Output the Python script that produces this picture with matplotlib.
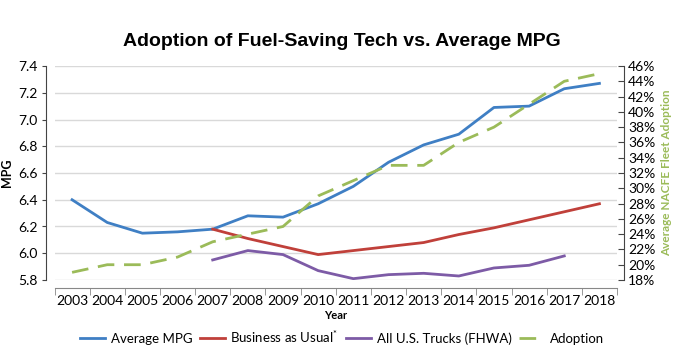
import matplotlib
matplotlib.use("Agg")
import matplotlib.pyplot as plt

plt.rcParams['font.family'] = ['Lato', 'DejaVu Sans']
plt.rcParams['mathtext.fontset'] = 'custom'
plt.rcParams['mathtext.rm'] = 'Lato'

years = [str(y) for y in range(2003, 2019)]
avg_mpg = [6.40, 6.23, 6.15, 6.16, 6.18, 6.28, 6.27, 6.37, 6.50, 6.68, 6.81, 6.89, 7.09, 7.10, 7.23, 7.27]
bau_years = years[4:]
bau = [6.18, 6.11, 6.05, 5.99, 6.02, 6.05, 6.08, 6.14, 6.19, 6.25, 6.31, 6.37]
fhwa_years = years[4:15]
fhwa = [5.95, 6.02, 5.99, 5.87, 5.81, 5.84, 5.85, 5.83, 5.89, 5.91, 5.98]
adoption = [19, 20, 20, 21, 23, 24, 25, 29, 31, 33, 33, 36, 38, 41, 44, 45]

c_blue = '#3f7fc4'
c_red = '#c0403a'
c_purple = '#7d5ba6'
c_green = '#9bbb59'

fig = plt.figure(figsize=(6.84, 3.6), dpi=100)
ax = fig.add_axes([54.5/684, 1-280/360, (617-54.5)/684, (280-66)/360])
x = list(range(len(years)))
xi = {y: i for i, y in enumerate(years)}

ax.set_xlim(-0.5, len(years)-0.5)
ax.set_ylim(5.8, 7.4)
ax.set_yticks([5.8 + 0.2*i for i in range(9)])
ax.set_yticklabels([f"{5.8 + 0.2*i:.1f}" for i in range(9)], fontsize=8, color='#333333')
ax.grid(axis='y', color='#d9d9d9', lw=1)
ax.set_axisbelow(True)
ax.set_xticks(x)
ax.set_xticklabels(years, fontsize=8, color='#222222')
ax.set_xticks([i-0.5 for i in range(len(years)+1)], minor=True)
ax.tick_params(axis='x', which='major', length=0, pad=5)
ax.tick_params(axis='x', which='minor', length=5, color='#888888')
ax.tick_params(axis='y', length=3, color='#444444', pad=3)
for s in ['top', 'right']:
    ax.spines[s].set_visible(False)
ax.spines['left'].set_position(('outward', 6))
ax.spines['left'].set_color('#444444')
ax.spines['bottom'].set_position(('outward', 6))
ax.spines['bottom'].set_color('#888888')
ax.set_ylabel('MPG', fontsize=9, fontweight='bold', labelpad=4)
ax.set_xlabel('Year', fontsize=8, fontweight='bold', labelpad=2)

l1, = ax.plot(x, avg_mpg, color=c_blue, lw=2, label='Average MPG')
l2, = ax.plot([xi[y] for y in bau_years], bau, color=c_red, lw=2, label='Business as Usual$^{*}$')
l3, = ax.plot([xi[y] for y in fhwa_years], fhwa, color=c_purple, lw=2, label='All U.S. Trucks (FHWA)')

ax2 = ax.twinx()
ax2.set_ylim(18, 46)
ax2.set_yticks(list(range(18, 47, 2)))
ax2.set_yticklabels([f"{v}%" for v in range(18, 47, 2)], fontsize=8, color=c_green)
l4, = ax2.plot(x, adoption, color=c_green, lw=2, dashes=(6, 3.5), label='Adoption')
for s in ['top', 'left', 'bottom']:
    ax2.spines[s].set_visible(False)
ax2.spines['right'].set_position(('outward', 5))
ax2.spines['right'].set_color('#444444')
ax2.tick_params(axis='y', length=4, direction='in', color='#444444', pad=3)
ax2.set_ylabel('Average NACFE Fleet Adoption', fontsize=8.5, fontweight='bold', color=c_green, labelpad=4)

fig.text(0.5, 1-42/360, 'Adoption of Fuel-Saving Tech vs. Average MPG', ha='center', va='center',
         fontsize=14, fontweight='bold', family=['Liberation Sans', 'DejaVu Sans'])

fig.legend(handles=[l1, l2, l3, l4], loc='center', bbox_to_anchor=(0.5, 1-337/360), ncol=4,
           frameon=False, fontsize=9.5, handlelength=1.9, columnspacing=0.6, handletextpad=0.4)

fig.savefig('out.png', dpi=100)
